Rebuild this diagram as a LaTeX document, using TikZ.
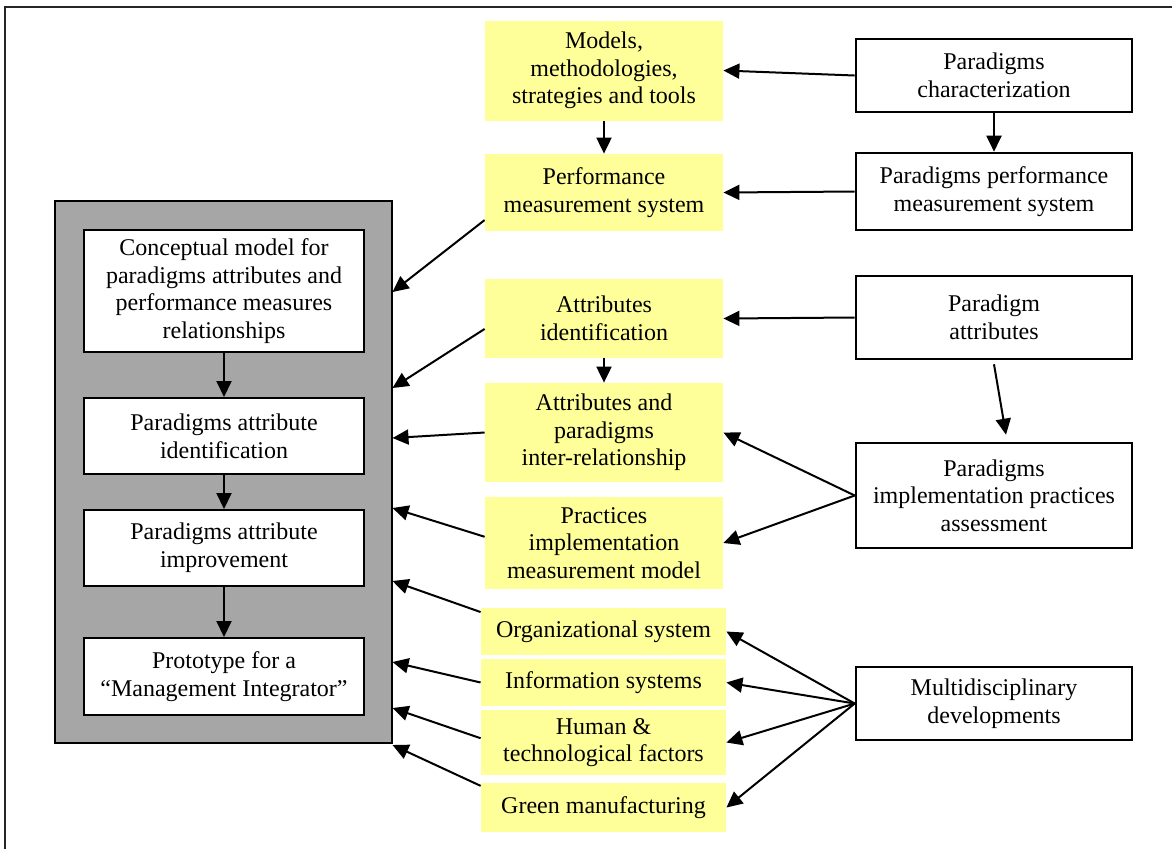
\documentclass[tikz,border=0pt]{standalone}
\usepackage{fontspec}
\setmainfont{Liberation Serif}
\usetikzlibrary{arrows.meta}
\definecolor{paleyellow}{HTML}{FFFF99}
\definecolor{boxgrey}{HTML}{A6A6A6}
\tikzset{
  txt/.style={font=\fontsize{12}{13.8}\selectfont, align=center, inner sep=0pt},
  yelbox/.style={txt, fill=paleyellow, minimum width=119pt},
  lowbox/.style={txt, fill=paleyellow, minimum width=122.5pt},
  srcbox/.style={txt, draw, line width=1.3pt, fill=white, minimum width=138pt},
  stagebox/.style={txt, draw, line width=1pt, fill=white, minimum width=140pt},
  arr/.style={line width=1pt, -{Triangle[length=8pt,width=7.5pt]}}
}
\begin{document}
\begin{tikzpicture}[x=0.5pt, y=-0.5pt]
  \useasboundingbox (0,0) rectangle (1172,848);
  \clip (0,0) rectangle (1172,848);
  \draw [line width=0.8pt, black!85] (5,7) rectangle (1200,880);

  % grey block with the four stages
  \node [draw, line width=1.3pt, fill=boxgrey, minimum width=168.5pt, minimum height=271pt] (grey) at (223.5,472) {};
  \node [stagebox, minimum height=61pt] (concept) at (224,291) {Conceptual model for\\ paradigms attributes and\\ performance measures\\ relationships};
  \node [stagebox, minimum height=38pt] (pident) at (224,436) {Paradigms attribute\\ identification};
  \node [stagebox, minimum height=38pt] (pimprove) at (224,548) {Paradigms attribute\\ improvement};
  \node [stagebox, minimum height=38.5pt] (proto) at (224,676.5) {Prototype for a\\ ``Management Integrator''};
  \draw [arr] (concept) -- (pident);
  \draw [arr] (pident) -- (pimprove);
  \draw [arr] (pimprove) -- (proto);

  % middle column
  \node [yelbox, minimum height=50pt] (models) at (604,70.5) {Models,\\ methodologies,\\ strategies and tools};
  \node [yelbox, minimum height=38.5pt] (perf) at (604,192.5) {Performance\\ measurement system};
  \node [yelbox, minimum height=39.5pt] (attid) at (604,318.5) {Attributes\\ identification};
  \node [yelbox, minimum height=49.5pt] (attrel) at (604,432.5) {Attributes and\\ paradigms\\ inter-relationship};
  \node [yelbox, minimum height=46pt] (pract) at (604,543) {Practices\\ implementation\\ measurement model};
  \node [lowbox, minimum height=23.5pt] (org) at (603.5,631.5) {Organizational system};
  \node [lowbox, minimum height=23.5pt] (info) at (603.5,682.5) {Information systems};
  \node [lowbox, minimum height=32.5pt] (human) at (603.5,742.5) {Human \&\\ technological factors};
  \node [lowbox, minimum height=24.5pt] (green) at (603.5,807.5) {Green manufacturing};
  \draw [arr] (models) -- (perf);
  \draw [arr] (attid) -- (attrel);

  % right column
  \node [srcbox, minimum height=36.5pt] (charact) at (994,75.5) {Paradigms\\ characterization};
  \node [srcbox, minimum height=38.5pt] (ppms) at (994,191.5) {Paradigms performance\\ measurement system};
  \node [srcbox, minimum height=41.5pt] (pattr) at (994,317.5) {Paradigm\\ attributes};
  \node [srcbox, minimum height=52.5pt] (impl) at (994,495.5) {Paradigms\\ implementation practices\\ assessment};
  \node [srcbox, minimum height=36.5pt] (multi) at (994,703.5) {Multidisciplinary\\ developments};
  \draw [arr] (charact) -- (ppms);
  \draw [arr] ([yshift=-2pt]pattr.south) -- ([xshift=6pt,yshift=3.5pt]impl.north);

  \draw [arr] (charact.west) -- (models.east);
  \draw [arr] (ppms.west) -- (perf.east);
  \draw [arr] (pattr.west) -- (attid.east);
  \draw [arr] (impl.west) -- (attrel.east);
  \draw [arr] (impl.west) -- (pract.east);
  \draw [arr] (multi.west) -- (org.east);
  \draw [arr] (multi.west) -- (info.east);
  \draw [arr] (multi.west) -- (human.east);
  \draw [arr] (multi.west) -- (green.east);

  % inputs into the grey block
  \coordinate (ga) at (392.5,292);
  \coordinate (gb) at (392.5,388);
  \coordinate (gc) at (392.5,438);
  \coordinate (gd) at (392.5,508);
  \coordinate (ge) at (392.5,581);
  \coordinate (gf) at (392.5,662);
  \coordinate (gg) at (392.5,708);
  \coordinate (gh) at (392.5,745);
  \draw [arr] (perf.193) -- (ga);
  \draw [arr] (attid.185) -- (gb);
  \draw [arr] (attrel.west) -- (gc);
  \draw [arr] (pract.177) -- (gd);
  \draw [arr] (org.171) -- (ge);
  \draw [arr] (info.west) -- (gf);
  \draw [arr] (human.178) -- (gg);
  \draw [arr] (green.170) -- (gh);
\end{tikzpicture}
\end{document}
